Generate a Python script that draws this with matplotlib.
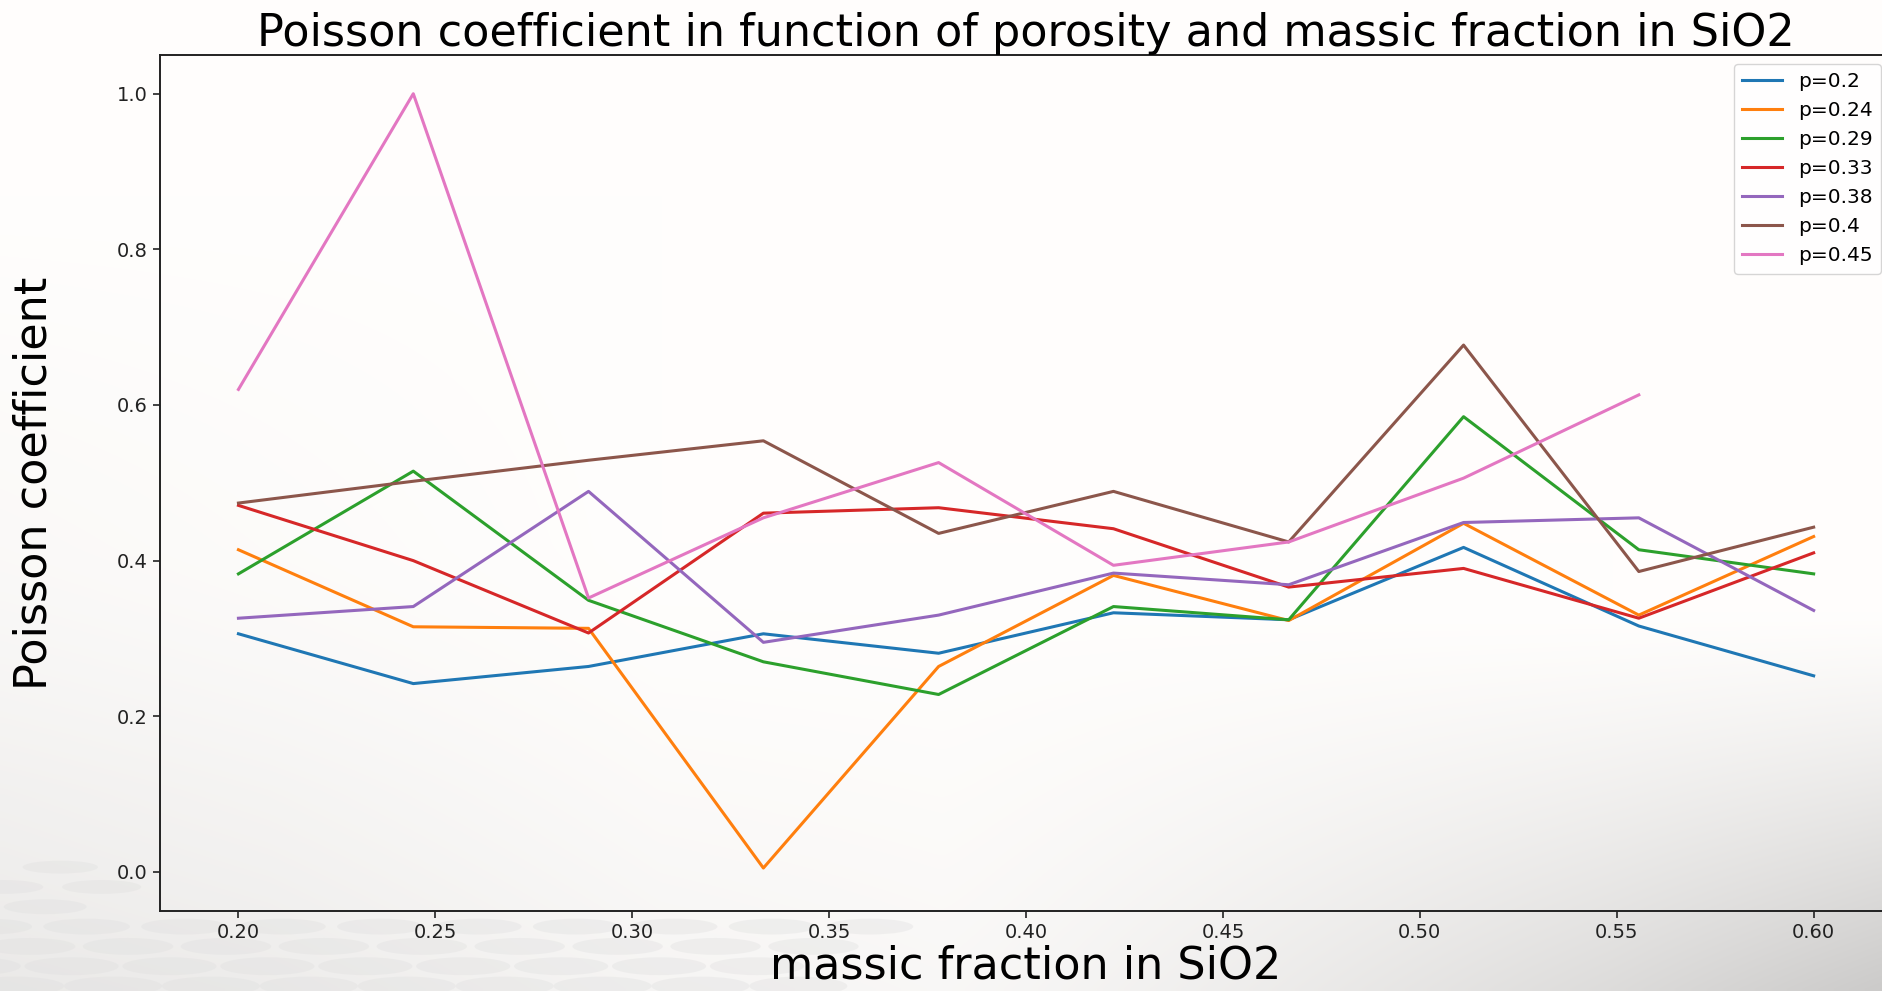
import numpy as np
import matplotlib
matplotlib.use("Agg")
import matplotlib.pyplot as plt
from matplotlib.patches import Ellipse

# ---- data ----
massic_fraction = [0.2, 0.2444, 0.2889, 0.3333, 0.3778, 0.4222, 0.4667, 0.5111, 0.5556, 0.6]
porosity_labels = ["p=0.2", "p=0.24", "p=0.29", "p=0.33", "p=0.38", "p=0.4", "p=0.45"]

p020 = [0.306, 0.242, 0.264, 0.306, 0.281, 0.333, 0.324, 0.417, 0.316, 0.252]
p024 = [0.414, 0.315, 0.313, 0.005, 0.264, 0.381, 0.323, 0.448, 0.330, 0.431]
p029 = [0.383, 0.515, 0.349, 0.270, 0.228, 0.341, 0.324, 0.585, 0.414, 0.383]
p033 = [0.471, 0.400, 0.307, 0.461, 0.468, 0.441, 0.366, 0.390, 0.326, 0.410]
p038 = [0.326, 0.341, 0.489, 0.295, 0.330, 0.384, 0.369, 0.449, 0.455, 0.336]
p040 = [0.474, 0.502, 0.529, 0.554, 0.435, 0.489, 0.424, 0.677, 0.386, 0.443]
p045 = [0.620, 1.000, 0.352, 0.455, 0.526, 0.394, 0.424, 0.506, 0.613, np.nan]

series = [p020, p024, p029, p033, p038, p040, p045]
colors = ["#1f77b4", "#ff7f0e", "#2ca02c", "#d62728", "#9467bd", "#8c564b", "#e377c2"]

fig = plt.figure(figsize=(18.83, 9.91), dpi=100)
AX_RECT = [0.0848, 0.0809, 0.9202, 0.8638]

# ---- slide-like background ----
bg = fig.add_axes([0, 0, 1, 1], zorder=-10)
H, W = 200, 380
yy, xx = np.mgrid[0:H, 0:W]
yn = yy / (H - 1)          # 0 top, 1 bottom
xn = xx / (W - 1)
img = np.ones((H, W))
img -= 0.05 * np.clip((yn - 0.55) / 0.45, 0, 1) ** 1.5 * np.clip(1.2 - xn * 1.4, 0, 1)
img -= 0.03 * np.clip(0.35 - xn, 0, 1) / 0.35 * np.clip((yn - 0.2) / 0.6, 0, 1)
right = np.clip((xn - 0.5) / 0.5, 0, 1) * np.clip((yn - 0.62) / 0.38, 0, 1)
img -= 0.20 * right ** 1.2
img = np.clip(img, 0, 1)
rgb = np.dstack([img, img * 0.995, img * 0.99])
bg.imshow(rgb, extent=[0, 1, 0, 1], aspect="auto", interpolation="bilinear")
# faint dots bottom-left, outside the plotting area
ax_l, ax_b = AX_RECT[0], AX_RECT[1]
for row in range(8):
    yc = 0.125 - row * 0.02
    for col in range(16):
        xc = -0.02 + col * 0.052 + (row % 2) * 0.026 - row * 0.004
        if xc > 0.5 - row * 0.01:
            continue
        if xc > ax_l - 0.02 and yc > ax_b - 0.005:
            continue
        bg.add_patch(Ellipse((xc, yc), 0.04 + row * 0.002, 0.013 + row * 0.001,
                             color="#dedede", alpha=0.35, lw=0))
bg.set_xlim(0, 1)
bg.set_ylim(0, 1)
bg.axis("off")

# ---- main axes ----
ax = fig.add_axes(AX_RECT)
ax.set_facecolor("none")
for vals, lab, c in zip(series, porosity_labels, colors):
    ax.plot(massic_fraction, vals, color=c, lw=2.2, label=lab)

ax.set_xlim(0.18, 0.62)
ax.set_ylim(-0.05, 1.05)
ax.set_xticks([0.2, 0.25, 0.3, 0.35, 0.4, 0.45, 0.5, 0.55, 0.6])
ax.set_yticks([0.0, 0.2, 0.4, 0.6, 0.8, 1.0])
ax.xaxis.set_major_formatter(matplotlib.ticker.FormatStrFormatter("%.2f"))
ax.yaxis.set_major_formatter(matplotlib.ticker.FormatStrFormatter("%.1f"))
ax.tick_params(labelsize=14, length=5, width=1.2, colors="#222222")
for s in ax.spines.values():
    s.set_linewidth(1.4)
    s.set_color("#222222")

ax.set_title("Poisson coefficient in function of porosity and massic fraction in SiO2",
             fontsize=32, pad=4)
ax.set_xlabel("massic fraction in SiO2", fontsize=32, labelpad=2)
ax.set_ylabel("Poisson coefficient", fontsize=32, labelpad=44)

leg = ax.legend(loc="upper right", bbox_to_anchor=(1881 / 1883, 1 - 64 / 991),
                bbox_transform=fig.transFigure, fontsize=14.5,
                frameon=True, borderaxespad=0, handlelength=2.0)
leg.get_frame().set_edgecolor("#cccccc")

fig.savefig("out.png", dpi=100)
